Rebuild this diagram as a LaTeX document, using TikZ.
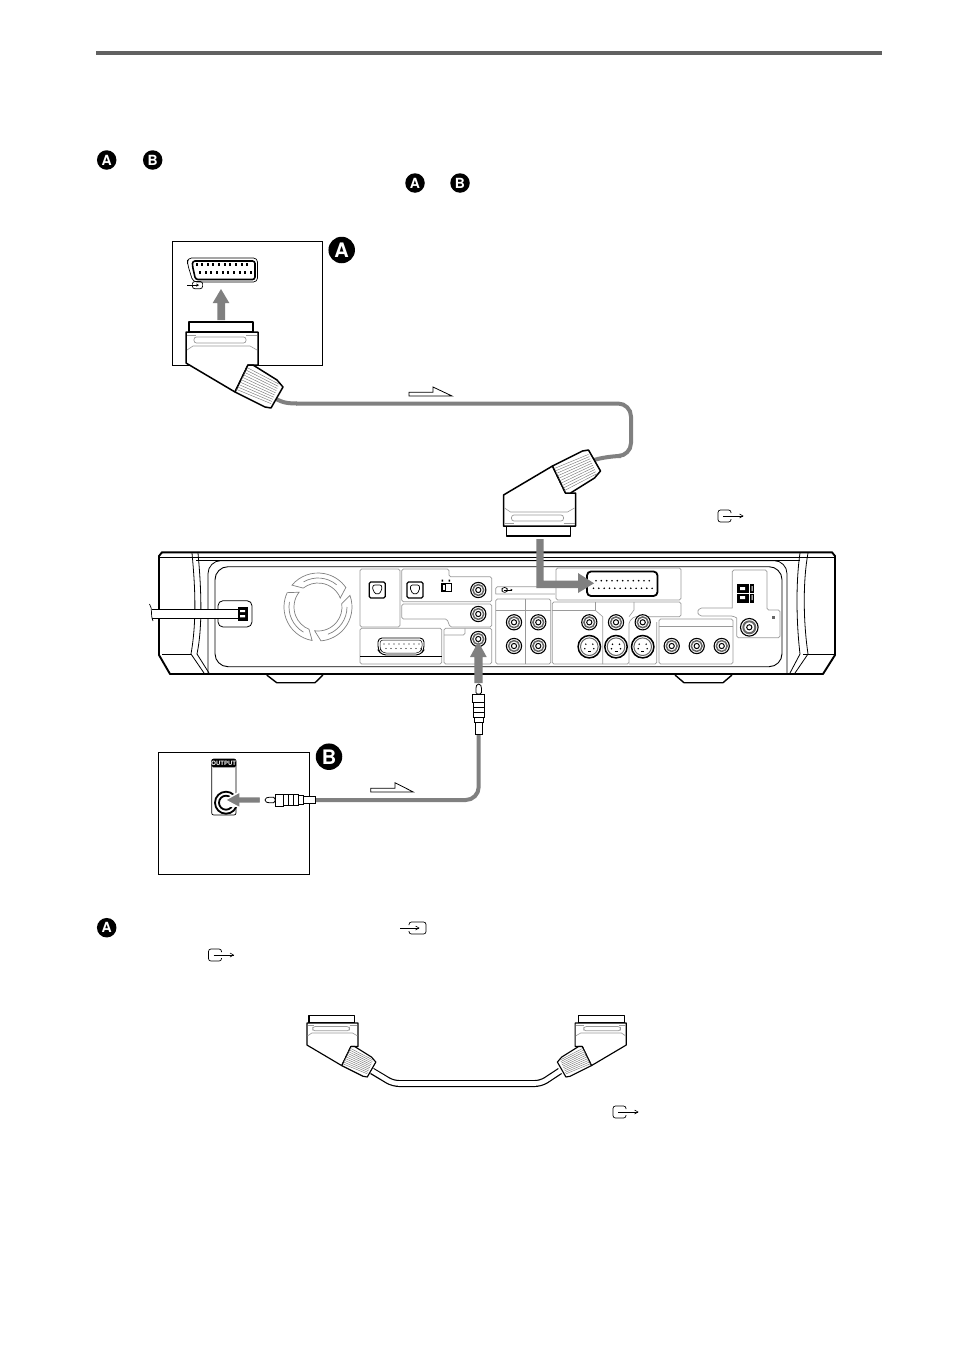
\documentclass[tikz,border=0pt]{standalone}
\usepackage{fontspec}
\setmainfont{TeX Gyre Heros}
\usetikzlibrary{calc}
\definecolor{arrowgray}{HTML}{808080}
\definecolor{panelgray}{HTML}{9A9A9A}
\tikzset{
  plugline/.style={line width=1.5pt,line join=round},
  panel/.style={draw=panelgray,line width=0.7pt,rounded corners=1.6pt},
  bigarrow/.style={fill=arrowgray,draw=none},
  cablegray/.style={draw=arrowgray,line width=4pt,rounded corners=13pt},
  framebox/.style={draw=black,line width=1pt},
  flowarrow/.style={draw=black,line width=0.8pt,fill=white,line join=miter},
  badge/.style={circle,fill=black,text=white,font=\bfseries,inner sep=0pt},
  smallbadge/.style={badge,minimum size=19.5pt,font=\bfseries\fontsize{14}{14}\selectfont},
  bigbadge/.style={badge,minimum size=26.5pt,font=\bfseries\fontsize{20}{20}\selectfont},
  iconline/.style={draw=black,line width=0.7pt,rounded corners=2.4pt},
  unitline/.style={draw=black,line width=0.7pt},
  unitthick/.style={draw=black,line width=1.9pt,line join=round},
}
\newcommand{\scartplug}{%
  \draw[plugline,fill=white] (-33,-10) rectangle (31,0);
  \draw[plugline,fill=white] (-36,0)--(36,0)--(36,33)--(26,33)--(13,60)--(-36,31)--cycle;
  \draw[panelgray,line width=0.7pt,fill=white,rounded corners=2.5pt] (-28,5) rectangle (24,11);
  \draw[panelgray,line width=0.6pt] (-35,18)--(-29,14)--(28,14)--(35,18);
  \draw[panelgray,line width=0.6pt] (-35,3)--(-26,3) (24,3)--(35,3);
  \draw[plugline,fill=white] (26,33)--(31,33)--(55,48)--(61,55)--(49,76)--(43,75)--(13,60)--cycle;
  \foreach \t in {0.09,0.18,...,0.95}{
    \draw[black!55,line width=0.4pt] ({26-13*\t},{33+27*\t})--({58-10*\t},{50+24*\t});
  }
}
\newcommand{\rcaplug}{%
  \draw[line width=0.8pt,fill=white,rounded corners=1.5pt] (0,-1.5)--(3,-2.8)--(10,-2.8)--(10,2.8)--(3,2.8)--(0,1.5)--cycle;
  \draw[line width=0.8pt,fill=white] (10,-6)--(18,-6)--(18,6)--(10,6)--cycle;
  \draw[line width=0.8pt,fill=white] (18,-5.5)--(33,-5.5)--(33,5.5)--(18,5.5)--cycle;
  \draw[line width=0.5pt] (23,-5.5)--(23,5.5) (28,-5.5)--(28,5.5);
  \draw[line width=0.8pt,fill=white] (33,-4.5)--(38,-4.5)--(38,4.5)--(33,4.5)--cycle;
  \draw[line width=0.8pt,fill=white] (38,-3.2)--(50,-3.2)--(50,3.2)--(38,3.2)--cycle;
}
\newcommand{\jackat}[2]{%
  \draw[line width=1.1pt,fill=white] (#1,#2) circle[radius=7.6];
  \draw[black!60,line width=1.5pt] (#1,#2) circle[radius=5.4];
  \draw[line width=1pt,fill=white] (#1,#2) circle[radius=2.6];
}
\newcommand{\svideoat}[2]{%
  \draw[line width=1.5pt,fill=white] (#1,#2) circle[radius=11.2];
  \draw[black!60,line width=1pt] (#1,#2) circle[radius=8.8];
  \fill ({#1-3.5},{#2-2.5}) circle[radius=0.8] ({#1+3.5},{#2-2.5}) circle[radius=0.8]
        ({#1-4.5},{#2+2}) circle[radius=0.8] ({#1+4.5},{#2+2}) circle[radius=0.8];
  \draw[line width=0.7pt] ({#1-1.5},{#2+4.5}) -- ({#1+1.5},{#2+4.5});
}
\newcommand{\outicon}[2]{%
  \draw[iconline] ({#1+13},{#2+3}) -- ({#1+13},{#2}) -- (#1,#2) -- (#1,{#2+12}) -- ({#1+13},{#2+12}) -- ({#1+13},{#2+9});
  \draw[draw=black,line width=0.6pt] ({#1+5},{#2+6}) -- ({#1+25},{#2+6});
  \draw[draw=black,line width=0.6pt] ({#1+21.5},{#2+4}) -- ({#1+25},{#2+6}) -- ({#1+21.5},{#2+8});
}
\newcommand{\inicon}[2]{%
  \draw[iconline] ({#1+9},{#2+3}) -- ({#1+9},{#2}) -- ({#1+26},{#2}) -- ({#1+26},{#2+12}) -- ({#1+9},{#2+12}) -- ({#1+9},{#2+9});
  \draw[draw=black,line width=0.6pt] (#1,{#2+6}) -- ({#1+19},{#2+6});
  \draw[draw=black,line width=0.6pt] ({#1+15.5},{#2+4}) -- ({#1+19},{#2+6}) -- ({#1+15.5},{#2+8});
}
\begin{document}
\begin{tikzpicture}[x=1pt,y=-1pt]
\path[use as bounding box,fill=white] (0,0) rectangle (954,1352);

% header rule
\fill[black!62] (96,51.3) rectangle (882,55.3);

% inline badges
\node[smallbadge] (a1) at (106.7,160) {A};
\node[smallbadge] (b1) at (152.7,160) {B};
\node[smallbadge] (a2) at (415,183) {A};
\node[smallbadge] (b2) at (460,183) {B};
\node[smallbadge] (a3) at (106.7,927.7) {A};
\node[bigbadge] (abig) at (341.7,250) {A};
\node[bigbadge] (bbig) at (329,756.7) {B};

% box A
\draw[framebox] (172.7,241.7) rectangle (322.7,365);
\draw[line width=0.7pt,rounded corners=4pt] (187.5,258) -- (257.5,258) -- (257.5,282) -- (193,282) -- (187.5,264) -- cycle;
\draw[line width=1.6pt,rounded corners=2.5pt] (192.5,261) -- (255,261) -- (255,279.5) -- (195.5,279.5) -- (192.5,266) -- cycle;
\foreach \i in {0,...,9}{
  \fill ({195.5+\i*5.65},262.8) rectangle ++(2,3.4);
  \fill ({199+\i*5.65},271) rectangle ++(2,3.4);
}
\begin{scope}[shift={(187,281.5)},scale=0.6]\inicon{0}{0}\end{scope}
\fill[bigarrow] (221,289) -- (229.3,303) -- (225,303) -- (225,320) -- (217.3,320) -- (217.3,303) -- (212.7,303) -- cycle;

% SCART cable
\draw[draw=arrowgray,line width=4pt] (270,395) .. controls (280,402) and (285,403.5) .. (297,403.5);
\draw[cablegray] (296,403.5) -- (631,403.5) -- (631,456) -- (608,456) -- (594,460);
\begin{scope}[shift={(222,332)}]\scartplug\end{scope}
\begin{scope}[shift={(539.5,526)},yscale=-1]\scartplug\end{scope}
\draw[flowarrow] (409,392.3)--(433,392.3)--(433,387)--(452,396)--(409,396)--cycle;
\outicon{718}{510}

% ===== unit =====
% outer body
\draw[unitthick,fill=white] (170,674) -- (159,655) -- (159,556) -- (162,552.3) -- (832,552.3) -- (835,556) -- (835,655) -- (823,674) -- cycle;
\draw[line width=0.9pt] (160,557) -- (834,557);
\draw[unitline] (196,560.6) -- (800,560.6);
\draw[line width=0.9pt] (162,654) -- (191,654) (803,654) -- (834,654);
% side lines
\draw[line width=0.8pt] (192,553) .. controls (195,585) and (197,620) .. (191,654) -- (204,673);
\draw[line width=0.8pt] (198,553) .. controls (201,585) and (203,625) .. (197,654) -- (209,673);
\draw[line width=0.8pt] (800,553) .. controls (796,580) and (796,620) .. (800,654) -- (790,673);
\draw[line width=0.8pt] (808,553) .. controls (803,580) and (803,620) .. (808,654) -- (795,673);
% panel surrounds
\draw[line width=0.8pt,rounded corners=13pt] (208,673) -- (208,560.6) -- (787,560.6) -- (787,673);
\draw[line width=0.9pt,rounded corners=13pt] (215,666.7) -- (215,566.7) -- (782,566.7) -- (782,666.7) -- cycle;
% feet
\draw[line width=1.4pt] (266.7,675) -- (276.7,682.7) -- (315,682.7) -- (323,675);
\draw[line width=1.4pt] (675,675) -- (684,682.7) -- (723,682.7) -- (732,675);

% power cord
\draw[line width=0.8pt,rounded corners=5pt] (218,600.7) rectangle (252,627);
\draw[draw=black,line width=1.3pt,fill=white] (152,609.5) -- (240,609.5) -- (240,618.5) -- (152,618.5);
\draw[line width=0.7pt] (149.5,604) .. controls (153,609) and (150,614) .. (153,621);
\fill (238,606.7) rectangle (248,620.5);
\fill[white] (240,610) rectangle (245,612.2) (240,615.2) rectangle (245,617.4);

% fan
\begin{scope}[shift={(318,607)},draw=black!50,line width=0.7pt]
\foreach \r in {20,140,260}{
  \begin{scope}[rotate=\r]
  \draw ({34*cos(0)},{34*sin(0)}) arc[start angle=0,end angle=105,radius=34]
        -- ({24*cos(118)},{24*sin(118)}) arc[start angle=118,end angle=12,radius=24] -- cycle;
  \draw ({29*cos(20)},{29*sin(20)}) arc[start angle=20,end angle=90,radius=29];
  \end{scope}
}
\end{scope}

% panels left
\draw[panel] (360,569) rectangle (400,627);
\draw[panel] (401.7,601.7) -- (401.7,569) -- (449,569) -- (449,576.7) -- (491.7,576.7) -- (491.7,601.7) -- cycle;
\draw[panel] (401.7,604) -- (491.7,604) -- (491.7,627) -- (450,627) -- (447,619) -- (401.7,619) -- cycle;
\draw[panel] (360,628.3) rectangle (441.7,664);
\draw[line width=0.7pt] (360,656.7) -- (441.7,656.7);
\draw[panel] (444,628.3) -- (491.7,628.3) -- (491.7,664) -- (444,664) -- cycle;
\draw[panel] (444,635) -- (465,635) -- (465,628.3);
% optical
\foreach \x in {377.3,415}{
  \draw[line width=1.3pt,rounded corners=1.5pt] ({\x-8},582) rectangle ({\x+8},598);
  \draw[line width=0.7pt,rounded corners=2pt] ({\x-4.5},585) -- ({\x+4.5},585) -- ({\x+4.5},591) -- (\x,595) -- ({\x-4.5},591) -- cycle;
}
% switch
\draw[line width=0.8pt] (441,583.5) rectangle (451,591.5);
\fill (441,583.5) rectangle (446,591.5);
\fill[white] (442.5,585) rectangle (445,590);
\fill (441.5,579.5) rectangle (443,581.5) (448.5,579.5) rectangle (450,581.5);
% dsub
\draw[line width=0.9pt,rounded corners=4pt] (378,638) -- (424,638) -- (424,650) -- (420,655) -- (382,655) -- (378,650) -- cycle;
\draw[line width=0.5pt,rounded corners=3pt] (380,640) -- (422,640) -- (422,649) -- (419,653) -- (383,653) -- (380,649) -- cycle;
\foreach \i in {0,...,7}{
  \fill ({384+\i*5},644) circle[radius=0.6];
  \fill ({386+\i*5},648.5) circle[radius=0.6];
}
\jackat{478.3}{590}
\jackat{478.3}{614}
\jackat{478.3}{639}

% panels right
\draw[panel] (495.7,594) -- (555,594) (495.7,594) -- (495.7,586.7) -- (555,586.7);
\begin{scope}[shift={(502,587.5)},scale=0.4]\outicon{0}{0}\end{scope}
\draw[panel] (556,568) -- (681,568) -- (681,600) -- (556,600) -- cycle;
\draw[panel] (495.7,599) rectangle (550.7,664);
\draw[line width=0.6pt,draw=panelgray] (495.7,610) -- (550.7,610) (525.7,599) -- (525.7,664);
\draw[panel] (552.3,602) -- (681,602) -- (681,616.7) -- (634,616.7) -- (629,622) -- (629,664) -- (552.3,664) -- cycle;
\draw[panel] (629,664) -- (656.7,664) -- (656.7,622);
\draw[line width=0.6pt,draw=panelgray] (552.3,610) -- (595,610) -- (595,602);
\draw[line width=0.6pt,draw=panelgray] (595,610) -- (602.7,616.7) -- (602.7,664);
\draw[line width=0.6pt,draw=panelgray] (634,602) -- (634,610) -- (629,616.7);
\draw[panel] (659,619) rectangle (733,664);
\draw[line width=0.6pt,draw=panelgray] (659,626.7) -- (733,626.7);
\draw[panel] (732.3,608) -- (732.3,570) -- (767,570) -- (767,610) -- (780,610) -- (780,637.7) -- (736.7,637.7) -- (736.7,618);
\draw[panel] (732.3,608) -- (700,608) -- (697,612) -- (700,616) -- (733,616) -- (736.7,618);
% scart socket on unit
\draw[line width=1.8pt,fill=white,rounded corners=4pt] (587,571.5) rectangle (657.5,596);
\foreach \i in {0,...,10}{\fill ({596+\i*5.33},580.7) circle[radius=0.9];}
\foreach \i in {0,...,11}{\fill ({593.5+\i*5.33},588.3) circle[radius=0.9];}
% jacks
\foreach \x in {514,538.3}{\jackat{\x}{622.3}\jackat{\x}{646}}
\foreach \x in {589.3,616,642.7}{\jackat{\x}{622.3}\svideoat{\x}{646.7}}
\foreach \x in {671.7,696.7,721.7}{\jackat{\x}{646}}
\draw[line width=1.1pt,fill=white] (749.3,627.3) circle[radius=8.8];
\draw[black!60,line width=2pt] (749.3,627.3) circle[radius=6];
\draw[line width=1pt,fill=white] (749.3,627.3) circle[radius=2.6];
\fill[black!60] (772,616) rectangle (774.5,618.5);
% speaker terminal
\fill (737,583.5) rectangle (754,602.5);
\fill[white] (749,583.5) rectangle (750,602.5);
\fill[white] (737,592.5) rectangle (754,593.5);
\fill[white] (740,587) rectangle (745,590) (740,596) rectangle (745,599);
\fill[white] (751.5,586) rectangle (752.5,591) (751.5,595) rectangle (752.5,600);

% arrow into scart
\fill[bigarrow] (536.3,539) -- (543.7,539) -- (543.7,580.5) -- (578,580.5) -- (578,573) -- (594,583.3) -- (578,593) -- (578,588) -- (536.3,588) -- cycle;

% arrow into jack
\fill[bigarrow] (478.3,641.7) -- (486.7,657) -- (482.7,657) -- (482.7,683) -- (474.3,683) -- (474.3,657) -- (470,657) -- cycle;

% box B
\draw[framebox] (158.3,752.3) rectangle (309,874);
\draw[line width=0.7pt,rounded corners=2pt] (211.7,759) rectangle (236,815);
\fill[rounded corners=1.5pt] (211.7,759) rectangle (236,767.3);
\node[text=white,font=\bfseries\fontsize{6}{6}\selectfont,inner sep=0pt] (outlabel) at (223.8,763.2) {OUTPUT};
\draw[line width=1.8pt] (226,802.7) circle[radius=11];
\draw[line width=1.8pt] (226,802.7) circle[radius=7];
\fill[white] (226,798.5) rectangle (240,807);
\draw[draw=white,line width=1.5pt,fill=arrowgray] (225,800) -- (240,791.7) -- (240,796.7) -- (260.7,796.7) -- (260.7,803.3) -- (240,803.3) -- (240,808) -- cycle;

% RCA cable
\draw[cablegray] (478.7,733) -- (478.7,800) -- (315,800);
\begin{scope}[shift={(265,800)}]\rcaplug\end{scope}
\begin{scope}[shift={(478.7,684)},rotate=-90]\rcaplug\end{scope}
\draw[flowarrow] (370.7,788.3)--(395,788.3)--(395,782.7)--(413.3,792)--(370.7,792)--cycle;

% text row icons
\inicon{400}{922}
\outicon{208.5}{949}

% bottom cable
\draw[line width=7pt,rounded corners=6pt] (372,1071) -- (393,1083.5) -- (541,1083.5) -- (560,1071);
\draw[white,line width=4.6pt,rounded corners=6pt] (369,1069) -- (393,1083.5) -- (541,1083.5) -- (563,1069);
\begin{scope}[shift={(332.5,1023)},scale=0.71,plugline/.style={line width=1.15pt,line join=round}]\scartplug\end{scope}
\begin{scope}[shift={(600.7,1023)},xscale=-0.71,yscale=0.71,plugline/.style={line width=1.15pt,line join=round}]\scartplug\end{scope}
\outicon{613}{1106}
\end{tikzpicture}
\end{document}
